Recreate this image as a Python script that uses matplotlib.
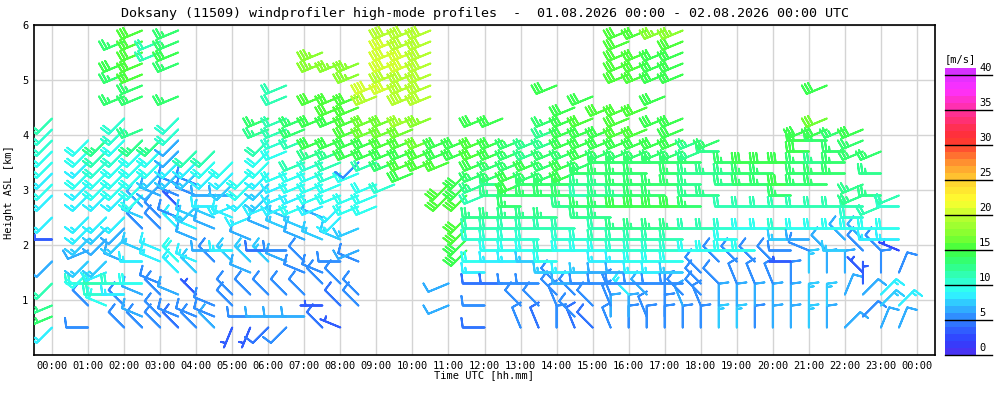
import matplotlib
matplotlib.use("Agg")
import matplotlib.pyplot as plt
import matplotlib.transforms as mtransforms
import numpy as np
from matplotlib.colors import LinearSegmentedColormap, ListedColormap, BoundaryNorm

plt.rcParams['font.family'] = ['DejaVu Sans Mono']

# profile times (UTC) and measurement heights (km ASL)
profile_times = ["00:00", "00:30", "01:00", "01:30", "02:00", "02:30", "03:00", "03:30",
                 "04:00", "04:30", "05:00", "05:30", "06:00", "06:30", "07:00", "07:30",
                 "08:00", "08:30", "09:00", "09:30", "10:00", "10:30", "11:00", "11:30",
                 "12:00", "12:30", "13:00", "13:30", "14:00", "14:30", "15:00", "15:30",
                 "16:00", "16:30", "17:00", "17:30", "18:00", "18:30", "19:00", "19:30",
                 "20:00", "20:30", "21:00", "21:30", "22:00", "22:30", "23:00", "23:30"]
levels_km = [0.5, 0.7, 0.9, 1.1, 1.3, 1.5, 1.7, 1.9, 2.1, 2.3, 2.5, 2.7, 2.9, 3.1,
             3.3, 3.5, 3.7, 3.9, 4.1, 4.3, 4.5, 4.7, 4.9, 5.1, 5.3, 5.5, 5.7, 5.9]

# one string per profile, bottom level first; speed in m/s (0-9, A=10 ... L=21), '.' = no data
speed_cols = [
    "8DC. B.6. 3.8. 8989 9AAB .... ....", ".... .... .... .... .... .... ....",
    "5.5. A976 788. 8898 99.. .... ....", "..9A B87. 678. 899A BC.. .... ....",
    "5.58 A.6. 768. 8999 A9AA .D.D E.D.", "56.6 9.87 .576 9999 9CC. .DDF FFFF",
    "55.5 5.88 .55. 6679 9C.. .... .BB.", "45.6 .89. .853 5578 66AA .D.. DEDD",
    "55.3 .78. 6877 5578 B... .... ....", "655. ..56 .678 6.89 B... .... ....",
    "3.55 ..78 ..88 6789 .... .... ....", "35.5 .67. 6.8. 899. .... .... ....",
    "46.5 ..74 .6.8 7789 9BCD .... ....", "56.5 ..65 .778 889. 9ABB .BB. ....",
    ".6.5 .55. 67.9 899B .BDD .... ....", "4.3. 55.. 7.68 999A CE.E .F.. HH..",
    "3.4. 5.5. 7.88 99AB CE.E FF.. H...", "..55 ..56 .7.9 9.95 EEFF FF.H H...",
    ".... .... ...9 99.B EEGG .JK. ....", ".... .... .... .A.D EFGG ..KJ KKKJ",
    ".... .... .... ..EF EFGI .JJJ KKJJ", ".... .... .... ...F FG.H .JJJ JJJJ",
    "..6. 6... .... FF.F EE.. .... ....", ".... ...E EFF. FEE. EE.. .... ....",
    "4.5. 489. ABC. BCDE FF.E .... ....", ".... 4.89 ABC. CCDD EE.E .... ....",
    "5.5. 5.89 ABCD DEED DD.. .... ....", "4.5. 5.79 ABC. DDDE CC.. .... ....",
    "5.55 579A .BC. DDDD DCCD ..E. ....", "45.5 68.9 AB.C DDEE DEEE E... ....",
    "4.5. 57.9 A.CD BCDD EEEF .E.. ....", "5655 5689 BBCD CCDD DEE. F... ....",
    "56.8 568A BC.E CDDD DEFF F..F FFFF", "55.6 589A BC.E DDDD DEF. F..F FF.F",
    "55.5 589A BC.E DD.D DE.E .E.E EE.H", "5.65 579A BC.E .DDD DEEE ...E EEFH",
    "5.55 55.9 .B.D CCCD CC.. .... ....", "7.6. 5.59 .B.. C.C. CD.. .... ....",
    "7.6. 5.59 9A.B .CCD .... .... ....", "5.6. 5.59 .9.B .DDE .... .... ....",
    "6.6. 5.5. .9.B .DDE .... .... ....", "6.6. 5.35 7A.B DE.E .... .... ....",
    "7.7. .7.5 69.B .DDD EEE. .... ....", "6.7. .6.6 .9.B .DDC .DEG ..E. ....",
    "6..6 .6.7 69.B ..DD D.D. .... ....", ".5.6 33.5 69AB CC.. DDE. .... ....",
    "6.78 .5.5 89.B C.C. D... .... ....", "6.8. .5.2 89.A B... .... .... ....",
]
# wind direction (from), 16 compass points: a=N, e=E, i=S, m=W ...
dir_cols = [
    "kll. k.k. m.k. kkkk kkkk .... ....", ".... .... .... .... .... .... ....",
    "m.o. mkkl kkk. kkkk kk.. .... ....", "..nm mlk. kkk. kkkk kk.. .... ....",
    "o.om m.n. kkk. kkkk kkkk .l.l l.l.", "on.n m.mn .ono kkkk kkl. .lll llll",
    "oo.o n.nn .oo. nkkk kk.. .... .ll.", "on.n .oo. .ono nnkk kkkk .l.. llll",
    "on.o .on. nnnk nnkk k... .... ....", "onn. ..om .nnm m.kk k... .... ....",
    "j.oo ..om ..nl mkkk .... .... ....", "jm.o .no. n.l. kkk. .... .... ....",
    "km.o ..om .n.l kkkk kkll .... ....", "km.o ..nm .nnl lll. llll .ll. ....",
    ".m.o .no. nn.l llll .lll .... ....", "o.m. on.. n.nl llll ll.l .l.. ll..",
    "n.o. o.m. n.kk llll ll.l ll.. l...", "..oo ..nl .l.l l.lk llll ll.l l...",
    ".... .... ...l ll.l llll .ll. ....", ".... .... .... .l.l llll ..ll llll",
    ".... .... .... ..ll llll .lll llll", ".... .... .... ...l ll.l .lll llll",
    "..l. l... .... kk.l ll.. .... ....", ".... ...k kkk. kkk. ll.. .... ....",
    "m.m. mmm. mmm. llll ll.l .... ....", ".... m.mm mmm. mmll ll.l .... ....",
    "p.o. m.mm mmmm mlll ll.. .... ....", "p.o. m.mm mmm. mmll ll.. .... ....",
    "a.po ommm .mm. mmll llll ..l. ....", "po.o mm.m mm.m mmll llll l... ....",
    "o.o. mm.m m.mm mmml llll .l.. ....", "papp mmmm mmmm mmmm lll. l... ....",
    "aa.o mmmm mm.m mmmm llll l..l llll", "ap.o mmmm mm.m mmmm lll. l..l ll.l",
    "aa.a mmmm mm.m mm.m ll.l .l.l ll.l", "a.po mmmm mm.m .mmm llll ...l llll",
    "a.po oo.m .m.m mmmm ll.. .... ....", "a.a. o.om .m.. m.m. ml.. .... ....",
    "a.a. p.om mm.m .mmm .... .... ....", "a.a. p.om .m.m .mmm .... .... ....",
    "a.a. p.o. .m.m .mmm .... .... ....", "a.a. a.mm mm.m mm.m .... .... ....",
    "a.a. .a.n mm.m .mmm mml. .... ....", "a.a. .a.o .m.m .mmm .mll ..l. ....",
    "c..b .a.m om.m ..mm m.l. .... ....", ".c.c ao.o ommm ll.. lll. .... ....",
    "b.cc .a.o mm.l m.m. l... .... ....", "b.c. .b.n mm.m l... .... .... ....",
]

# colour scale of the legend, m/s -> colour
scale_values = [0, 2, 5, 7, 9, 11, 13, 15, 17, 20, 22, 25, 27, 29, 31, 33, 35, 38, 41]
scale_colors = ["#5030f0", "#3040ff", "#3080ff", "#30c0ff", "#30ffff", "#30ffc0",
                "#30ff80", "#40ff40", "#80ff30", "#c0ff30", "#ffff30", "#ffd030",
                "#ffa030", "#ff6030", "#ff3030", "#ff3060", "#ff30a0", "#ff30ff",
                "#d030ff"]
scale_ticks = [0, 5, 10, 15, 20, 25, 30, 35, 40]

SPD = "0123456789ABCDEFGHIJKL"
DIRS = "abcdefghijklmnop"

xs, ys, us, vs, cs = [], [], [], [], []
for t, sp, dr in zip(profile_times, speed_cols, dir_cols):
    sp = sp.replace(" ", "")
    dr = dr.replace(" ", "")
    hh, mm = t.split(":")
    x = int(hh) + int(mm) / 60
    for h, s, d in zip(levels_km, sp, dr):
        if s == "." or d == ".":
            continue
        w = SPD.index(s)
        a = np.deg2rad(DIRS.index(d) * 22.5)
        xs.append(x)
        ys.append(h)
        us.append(-w * np.sin(a))
        vs.append(-w * np.cos(a))
        cs.append(w)

vmax = scale_values[-1]
smooth = LinearSegmentedColormap.from_list(
    "wp", list(zip([v / vmax for v in scale_values], scale_colors)))
cmap = ListedColormap([smooth((i + 0.5) / vmax) for i in range(vmax)])
norm = BoundaryNorm(np.arange(vmax + 1), cmap.N)

fig = plt.figure(figsize=(10, 4), dpi=100)
ax = fig.add_axes([0.034, 0.1125, 0.901, 0.825])

ax.barbs(xs, ys, us, vs, cs, cmap=cmap, norm=norm, length=5.6, pivot='tip',
         barb_increments=dict(half=2.5, full=5, flag=25),
         sizes=dict(spacing=0.15, height=0.44, width=0.12, emptybarb=0.0),
         linewidth=1.4, zorder=3)

ax.set_xlim(-0.5, 24.5)
ax.set_ylim(0, 6)
hours = list(range(25))
ax.set_xticks(hours)
ax.set_xticklabels([f"{h % 24:02d}:00" for h in hours])
ax.set_yticks([1, 2, 3, 4, 5, 6])
ax.tick_params(length=0, labelsize=7.5, pad=4)
ax.grid(color="#d4d4d4", lw=1)
ax.set_axisbelow(True)
for s in ax.spines.values():
    s.set_linewidth(1.2)

fig.text(0.485, 0.967, "Doksany (11509) windprofiler high-mode profiles  -  "
         "01.08.2026 00:00 - 02.08.2026 00:00 UTC", ha="center", va="center", fontsize=9.6)
fig.text(0.484, 0.062, "Time UTC [hh.mm]", ha="center", va="center", fontsize=7.5)
fig.text(0.009, 0.52, "Height ASL [km]", ha="center", va="center", rotation=90, fontsize=7.5)

# colour bar
cax = fig.add_axes([0.945, 0.1125, 0.031, 0.7175])
cax.imshow((np.arange(vmax) + 0.5)[:, None], cmap=cmap, norm=norm, aspect="auto",
           origin="lower", extent=[0, 1, 0, vmax])
cax.set_xlim(0, 1)
cax.set_ylim(0, vmax)
cax.axis("off")
tr = mtransforms.blended_transform_factory(cax.transAxes, cax.transData)
for v in scale_ticks:
    cax.plot([0, 1.52], [v, v], color="k", lw=1, transform=tr, clip_on=False)
    cax.text(1.1, v + 0.25, str(v), transform=tr, ha="left", va="bottom", fontsize=7.5)
cax.text(0.5, vmax + 0.6, "[m/s]", transform=tr, ha="center", va="bottom", fontsize=7.5)

fig.savefig("out.png", dpi=100)
